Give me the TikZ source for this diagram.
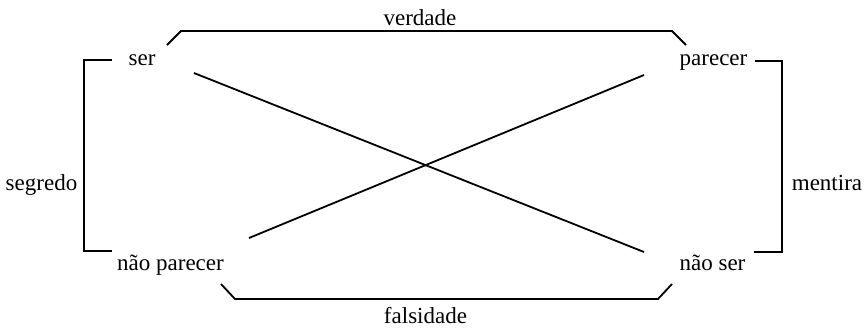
\documentclass[tikz,border=0pt]{standalone}
\usepackage{fontspec}
\setmainfont{Liberation Serif}
\begin{document}
\begin{tikzpicture}[x=1pt,y=-1pt,
  lbl/.style={font=\fontsize{23}{27}\selectfont, inner sep=0pt, anchor=base},
  ln/.style={line width=1.8pt, line cap=butt, line join=miter}]
\useasboundingbox (0,0) rectangle (866,330);
% labels
\node[lbl] (ser) at (142,65) {ser};
\node[lbl] (par) at (713.5,65) {parecer};
\node[lbl] (npar) at (170.5,270) {não parecer};
\node[lbl] (nser) at (712.5,270) {não ser};
\node[lbl] (ver) at (420,25) {verdade};
\node[lbl] (fal) at (425.5,323) {falsidade};
\node[lbl] (seg) at (41.5,190) {segredo};
\node[lbl] (men) at (827,190) {mentira};
% bracket coordinates
\coordinate (t1) at (167,45); \coordinate (t2) at (181,31);
\coordinate (t3) at (672,31); \coordinate (t4) at (686,45);
\coordinate (l1) at (112,60); \coordinate (l2) at (84,60);
\coordinate (l3) at (84,251); \coordinate (l4) at (112,251);
\coordinate (r1) at (755,61); \coordinate (r2) at (782,61);
\coordinate (r3) at (782,252); \coordinate (r4) at (754,252);
\coordinate (b1) at (221,284); \coordinate (b2) at (235,299);
\coordinate (b3) at (658,299); \coordinate (b4) at (672,284);
\coordinate (d1) at (194,73); \coordinate (d2) at (644,252);
\coordinate (e1) at (249,238); \coordinate (e2) at (644,75);
\draw[ln] (t1) -- (t2) -- (t3) -- (t4);
\draw[ln] (l1) -- (l2) -- (l3) -- (l4);
\draw[ln] (r1) -- (r2) -- (r3) -- (r4);
\draw[ln] (b1) -- (b2) -- (b3) -- (b4);
\draw[ln] (d1) -- (d2);
\draw[ln] (e1) -- (e2);
\end{tikzpicture}
\end{document}
